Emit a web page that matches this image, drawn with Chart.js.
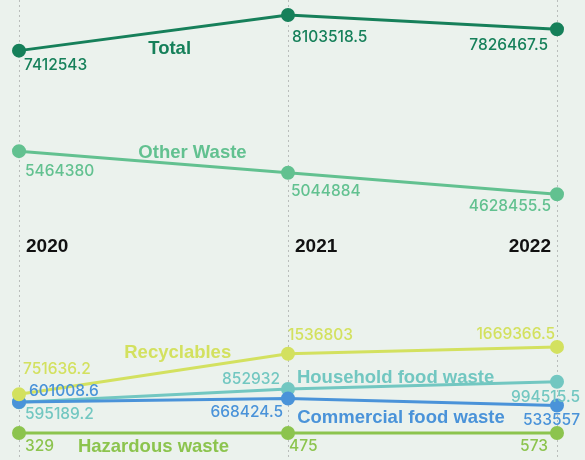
<!DOCTYPE html>
<html>
<head>
<meta charset="utf-8">
<script src="https://cdn.jsdelivr.net/npm/chart.js@4.4.1/dist/chart.umd.min.js"></script>
<style>
  html, body { margin: 0; padding: 0; background: #ebf2ed; }
  #wrap { width: 585px; height: 460px; }
</style>
</head>
<body>
<div id="wrap"><canvas id="chart" width="585" height="460"></canvas></div>
<script>
/* ---------- data ---------- */
const YEARS = ["2020", "2021", "2022"];
const TOTAL = [7412543, 8103518.5, 7826467.5];
const OTHER_WASTE = [5464380, 5044884, 4628455.5];
const RECYCLABLES = [751636.2, 1536803, 1669366.5];
const COMMERCIAL_FOOD = [601008.6, 668424.5, 533557];
const HOUSEHOLD_FOOD = [595189.2, 852932, 994515.5];
const HAZARDOUS = [329, 475, 573];

/* ---------- styling ---------- */
const VALUE_FONT = '500 15.5px Inter, "Noto Sans", sans-serif';
const NAME_FONT = 'bold 18.5px "Liberation Sans", Arial, sans-serif';
const YEAR_FONT = 'bold 19px "Liberation Sans", Arial, sans-serif';

function series(label, data, color, opts) {
    return Object.assign({
        label, data,
        borderColor: color,
        backgroundColor: color,
        pointBackgroundColor: color,
        pointBorderColor: color,
        borderWidth: 3,
        pointRadius: 5.5,
        pointHoverRadius: 5.5,
        tension: 0,
        clip: false
    }, opts);
}

const datasets = [
    series("Total", TOTAL, "#16805a", {
        labelDx: [5, 4, -9], labelDy: [19, 27, 21], labelAlign: ["left", "left", "right"],
        nameAt: 0.56, nameDy: 23
    }),
    series("Other Waste", OTHER_WASTE, "#62c190", {
        labelDx: [6, 3, -6], labelDy: [25, 23, 17], labelAlign: ["left", "left", "right"],
        nameAt: 0.645, nameDy: -7
    }),
    series("Recyclables", RECYCLABLES, "#d3e15f", {
        labelDx: [4, 0, -2], labelDy: [-20, -14, -8], labelAlign: ["left", "left", "right"],
        nameAt: 0.59, nameDy: -12
    }),
    series("Commercial food waste", COMMERCIAL_FOOD, "#4a93d9", {
        labelDx: [10, -5, 23], labelDy: [-6, 18, 20], labelAlign: ["left", "right", "right"],
        nameAt: 1.42, nameDy: 22
    }),
    series("Household food waste", HOUSEHOLD_FOOD, "#72c7c1", {
        labelDx: [6, -8, 23], labelDy: [17, -5, 20], labelAlign: ["left", "right", "right"],
        nameAt: 1.40, nameDy: -3
    }),
    series("Hazardous waste", HAZARDOUS, "#8cc44e", {
        labelDx: [6, 1, -9], labelDy: [18, 18, 18], labelAlign: ["left", "left", "right"],
        nameAt: 0.50, nameDy: 19
    })
];

/* dashed year guides + year captions */
const guides = {
    id: "guides",
    beforeDatasetsDraw(chart) {
        const ctx = chart.ctx;
        const xs = chart.scales.x;
        ctx.save();
        ctx.strokeStyle = "#b9bdbb";
        ctx.lineWidth = 1;
        ctx.setLineDash([2, 3]);
        YEARS.forEach((y, i) => {
            const px = Math.round(xs.getPixelForValue(i)) + 0.5;
            ctx.beginPath();
            ctx.moveTo(px, 0);
            ctx.lineTo(px, chart.height);
            ctx.stroke();
        });
        ctx.setLineDash([]);
        ctx.fillStyle = "#111";
        ctx.font = YEAR_FONT;
        ctx.textBaseline = "alphabetic";
        YEARS.forEach((y, i) => {
            const px = xs.getPixelForValue(i);
            const last = i === YEARS.length - 1;
            ctx.textAlign = last ? "right" : "left";
            ctx.fillText(y, px + (last ? -6 : 7), 252);
        });
        ctx.restore();
    }
};

/* value labels and series names */
const labels = {
    id: "labels",
    afterDatasetsDraw(chart) {
        const ctx = chart.ctx;
        ctx.save();
        ctx.textBaseline = "alphabetic";
        chart.data.datasets.forEach((ds, i) => {
            const pts = chart.getDatasetMeta(i).data;
            ctx.fillStyle = ds.borderColor;
            ctx.font = VALUE_FONT;
            pts.forEach((pt, j) => {
                ctx.textAlign = ds.labelAlign[j];
                ctx.fillText(String(ds.data[j]), pt.x + ds.labelDx[j], pt.y + ds.labelDy[j]);
            });
            const k = Math.floor(ds.nameAt);
            const f = ds.nameAt - k;
            const p0 = pts[k], p1 = pts[k + 1];
            const nx = p0.x + f * (p1.x - p0.x);
            const ny = p0.y + f * (p1.y - p0.y);
            ctx.font = NAME_FONT;
            ctx.textAlign = "center";
            ctx.fillText(ds.label, nx, ny + ds.nameDy);
        });
        ctx.restore();
    }
};

new Chart(document.getElementById("chart"), {
    type: "line",
    data: { labels: YEARS, datasets },
    options: {
        responsive: false,
        animation: false,
        layout: { autoPadding: false, padding: { left: 19, right: 28, top: 0, bottom: 0 } },
        plugins: { legend: { display: false }, tooltip: { enabled: false } },
        scales: {
            x: { display: false, offset: false },
            y: { display: false, min: -523000, max: 8394000 }
        }
    },
    plugins: [guides, labels]
});
</script>
</body>
</html>
